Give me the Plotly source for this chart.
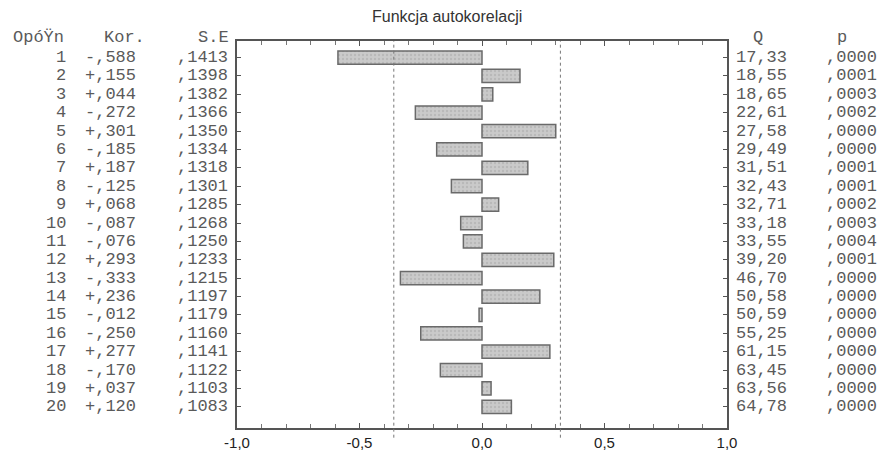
import plotly.graph_objects as go

# ---- data ----
lags = list(range(1, 21))
kor = [-0.588, 0.155, 0.044, -0.272, 0.301, -0.185, 0.187, -0.125, 0.068, -0.087,
       -0.076, 0.293, -0.333, 0.236, -0.012, -0.250, 0.277, -0.170, 0.037, 0.120]
se = [0.1413, 0.1398, 0.1382, 0.1366, 0.1350, 0.1334, 0.1318, 0.1301, 0.1285, 0.1268,
      0.1250, 0.1233, 0.1215, 0.1197, 0.1179, 0.1160, 0.1141, 0.1122, 0.1103, 0.1083]
q = [17.33, 18.55, 18.65, 22.61, 27.58, 29.49, 31.51, 32.43, 32.71, 33.18,
     33.55, 39.20, 46.70, 50.58, 50.59, 55.25, 61.15, 63.45, 63.56, 64.78]
p = [0.0000, 0.0001, 0.0003, 0.0002, 0.0000, 0.0000, 0.0001, 0.0001, 0.0002, 0.0003,
     0.0004, 0.0001, 0.0000, 0.0000, 0.0000, 0.0000, 0.0000, 0.0000, 0.0000, 0.0000]
conf_limits = [-0.36, 0.32]
x_ticks = [-1.0, -0.5, 0.0, 0.5, 1.0]
x_ticklabels = ["-1,0", "-0,5", "0,0", "0,5", "1,0"]
headers = {"lag": "OpóŸn", "kor": "Kor.", "se": "S.E", "q": "Q", "p": "p"}
title = "Funkcja autokorelacji"

def fmt_kor(v):
    return ("-" if v < 0 else "+") + ("%.3f" % abs(v))[1:].replace(".", ",")

def fmt_frac(v):
    return ("%.4f" % v)[1:].replace(".", ",")

def fmt_q(v):
    return ("%.2f" % v).replace(".", ",")

fig = go.Figure()
fig.add_trace(go.Bar(
    x=kor, y=lags, orientation="h", base=0, width=0.72,
    marker=dict(color="#c2c2c2", line=dict(color="#6a6a6a", width=1.5),
                pattern=dict(shape=".", fgcolor="#a8a8a8", bgcolor="#cacaca", size=4, solidity=0.3)),
    showlegend=False, hoverinfo="skip",
))

L, R, T, B = 237, 160, 41, 24
W, H = 887, 452
pw = W - L - R
ph = H - T - B

def px(xpix):
    return (xpix - L) / pw

def py(ypix):
    return 1 - (ypix - T) / ph

mono = dict(family="Liberation Mono, Courier New, monospace", size=17, color="#5a5a5a")
ann = []
for i, lag in enumerate(lags):
    ann.append(dict(x=px(68), y=lag, xref="paper", yref="y", text=str(lag), xanchor="right", showarrow=False, font=mono))
    ann.append(dict(x=px(138), y=lag, xref="paper", yref="y", text=fmt_kor(kor[i]), xanchor="right", showarrow=False, font=mono))
    ann.append(dict(x=px(230), y=lag, xref="paper", yref="y", text=fmt_frac(se[i]), xanchor="right", showarrow=False, font=mono))
    ann.append(dict(x=px(734), y=lag, xref="paper", yref="y", text=fmt_q(q[i]), xanchor="left", showarrow=False, font=mono))
    ann.append(dict(x=px(824), y=lag, xref="paper", yref="y", text=fmt_frac(p[i]), xanchor="left", showarrow=False, font=mono))
hy = py(37.5)
ann.append(dict(x=px(11), y=hy, xref="paper", yref="paper", text=headers["lag"], xanchor="left", yanchor="middle", showarrow=False, font=mono))
ann.append(dict(x=px(147), y=hy, xref="paper", yref="paper", text=headers["kor"], xanchor="right", yanchor="middle", showarrow=False, font=mono))
ann.append(dict(x=px(231), y=hy, xref="paper", yref="paper", text=headers["se"], xanchor="right", yanchor="middle", showarrow=False, font=mono))
ann.append(dict(x=px(758), y=hy, xref="paper", yref="paper", text=headers["q"], xanchor="center", yanchor="middle", showarrow=False, font=mono))
ann.append(dict(x=px(842), y=hy, xref="paper", yref="paper", text=headers["p"], xanchor="center", yanchor="middle", showarrow=False, font=mono))
ann.append(dict(x=px(447), y=py(16), xref="paper", yref="paper", yanchor="middle", text=title, showarrow=False,
                font=dict(family="Liberation Sans, Arial, sans-serif", size=16, color="#333")))

shapes = []
for c in conf_limits:
    shapes.append(dict(type="line", xref="x", yref="paper", x0=c, x1=c, y0=-0.025, y1=1.0,
                       line=dict(color="#777", width=1, dash="dot")))

fig.update_layout(
    width=W, height=H, margin=dict(l=L, r=R, t=T, b=B, autoexpand=False),
    paper_bgcolor="white", plot_bgcolor="white",
    annotations=ann, shapes=shapes, bargap=0.3,
    xaxis=dict(range=[-1, 1], tickvals=x_ticks, ticktext=x_ticklabels, ticks="inside", ticklen=5,
               tickcolor="#555", showgrid=False, zeroline=False, showline=True, linecolor="#555",
               linewidth=1.5, mirror="ticks",
               minor=dict(dtick=0.1, ticks="inside", ticklen=4, tickcolor="#777", showgrid=False),
               tickfont=dict(family="Liberation Sans, Arial, sans-serif", size=15, color="#222")),
    yaxis=dict(range=[21.15, 0.1], tickvals=lags, showticklabels=False, ticks="inside", ticklen=4,
               tickcolor="#555", showgrid=False, zeroline=False, showline=True, linecolor="#555",
               linewidth=1.5, mirror="ticks"),
)

fig.write_html("out.html")
